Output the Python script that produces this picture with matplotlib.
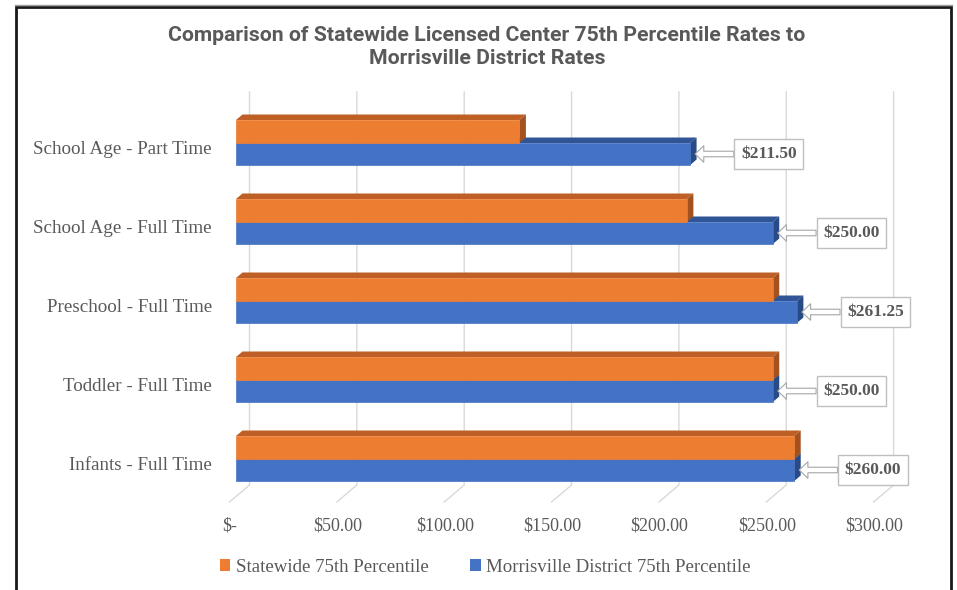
import numpy as np
import matplotlib
matplotlib.use("Agg")
import matplotlib.pyplot as plt
from matplotlib.patches import Polygon, Rectangle, Patch
from matplotlib.transforms import ScaledTranslation

# ---------- data ----------
categories = ["Infants - Full Time", "Toddler - Full Time", "Preschool - Full Time",
              "School Age - Full Time", "School Age - Part Time"]
statewide = [260.00, 250.00, 250.00, 210.00, 132.00]
morrisville = [260.00, 250.00, 261.25, 250.00, 211.50]
ticks = [0, 50, 100, 150, 200, 250, 300]
tick_labels = ["$-", "$50.00", "$100.00", "$150.00", "$200.00", "$250.00", "$300.00"]
series_names = ["Statewide 75th Percentile", "Morrisville District 75th Percentile"]

ORANGE = ("#ED7D31", "#BE5F25", "#A3521F")   # front, top, side
BLUE = ("#4472C4", "#2F5597", "#284A86")
TXT = "#595959"
SERIF = ["Liberation Serif", "DejaVu Serif"]

W, H, DPI = 957, 590, 100
fig = plt.figure(figsize=(W / DPI, H / DPI), dpi=DPI)

# plot area in pixels; $0 front face at x=236, 2.147 px per dollar, 79 px per category
AX_L, AX_R, AX_T, AX_B = 200, 920, 90, 505
X0, PXD, Y0, PXC = 236, 2.147, 459, 79
ax = fig.add_axes([AX_L / W, 1 - AX_B / H, (AX_R - AX_L) / W, (AX_B - AX_T) / H])
ax.set_xlim((AX_L - X0) / PXD, (AX_R - X0) / PXD)
ax.set_ylim((Y0 - AX_B) / PXC, (Y0 - AX_T) / PXC)
for s in ax.spines.values():
    s.set_visible(False)


def dx(px):
    return px / PXD


def dy(px):
    return px / PXC


def off(x_px, y_px):
    return ax.transData + ScaledTranslation(x_px / DPI, y_px / DPI, fig.dpi_scale_trans)


# back wall gridlines with floor lines
BACK = 13.5
for v in ticks:
    bx = v + dx(BACK)
    ax.plot([bx, bx, bx - dx(20)], [dy(Y0 - 92), dy(Y0 - 485), dy(Y0 - 502)],
            color="#D9D9D9", lw=1, zorder=0, clip_on=False)

# 3D-look bars
pos = np.arange(len(categories))
h_or, h_bl = dy(23), dy(22)
DX, DY = dx(6.5), dy(5.5)


def bar3d(y0, y1, vals, cols, z):
    bars = ax.barh(y0 + (y1 - y0) / 2, vals, height=y1 - y0, color=cols[0],
                   edgecolor=cols[0], lw=0.5, zorder=z + 0.2)
    for b in bars:
        x0, w = b.get_x(), b.get_width()
        yb, yt = b.get_y(), b.get_y() + b.get_height()
        top = [(x0, yt), (x0 + w, yt), (x0 + w + DX, yt + DY), (x0 + DX, yt + DY)]
        side = [(x0 + w, yb), (x0 + w, yt), (x0 + w + DX, yt + DY), (x0 + w + DX, yb + DY)]
        ax.add_patch(Polygon(top, closed=True, fc=cols[1], ec="none", zorder=z))
        ax.add_patch(Polygon(side, closed=True, fc=cols[2], ec="none", zorder=z + 0.1))
    return bars


bar3d(pos - h_bl, pos, morrisville, BLUE, 2)
bar3d(pos, pos + h_or, statewide, ORANGE, 3)

# data labels for the district series
for p, v in zip(pos, morrisville):
    ax.annotate(f"${v:,.2f}", xy=(v, p - h_bl / 2), xycoords=off(5, 0),
                xytext=(53, 0), textcoords="offset points", ha="center", va="center",
                fontsize=12.5, fontweight="bold", color=TXT, family=SERIF, zorder=6,
                bbox=dict(boxstyle="square,pad=0.38", fc="white", ec="#BFBFBF", lw=1),
                arrowprops=dict(arrowstyle="simple,head_length=0.5,head_width=0.95,tail_width=0.32",
                                fc="white", ec="#A6A6A6", lw=0.8, shrinkA=0, shrinkB=0))

# category labels
for p, c in zip(pos, categories):
    ax.text(0, p, c, transform=off(-24, -11), ha="right", va="baseline",
            fontsize=13.7, color=TXT, family=SERIF)

# value axis labels
ax.set_yticks([])
ax.set_xticks(ticks)
ax.set_xticklabels(tick_labels, fontsize=13, color=TXT, family=SERIF)
ax.tick_params(axis="x", length=0, pad=9)
for lab in ax.get_xticklabels():
    lab.set_transform(lab.get_transform() + ScaledTranslation(-6 / DPI, 0, fig.dpi_scale_trans))

# title
fig.text(487 / W, 1 - 47 / H,
         "Comparison of Statewide Licensed Center 75th Percentile Rates to\nMorrisville District Rates",
         ha="center", va="center", fontsize=15.3, color=TXT, family="Roboto",
         fontweight="bold", linespacing=1.33)

# legend
handles = [Patch(fc=ORANGE[0], ec="none"), Patch(fc=BLUE[0], ec="none")]
fig.legend(handles, series_names, loc="center left", ncol=2,
           bbox_to_anchor=(220 / W, 1 - 567 / H), frameon=False, borderpad=0,
           borderaxespad=0, handlelength=0.55, handleheight=0.55, handletextpad=0.3,
           columnspacing=2.2, prop={"family": SERIF, "size": 13.6}, labelcolor=TXT)

# chart frame
fig.add_artist(Rectangle((16 / W, -0.05), (951 - 16) / W, 1.05 - 6.5 / H,
                         transform=fig.transFigure, fill=False, ec="#1A1A1A", lw=2))
fig.add_artist(plt.Line2D([15 / W, 952 / W], [1 - 4.5 / H] * 2,
                          transform=fig.transFigure, color="#9E9E9E", lw=1))

fig.savefig("out.png", dpi=DPI)
